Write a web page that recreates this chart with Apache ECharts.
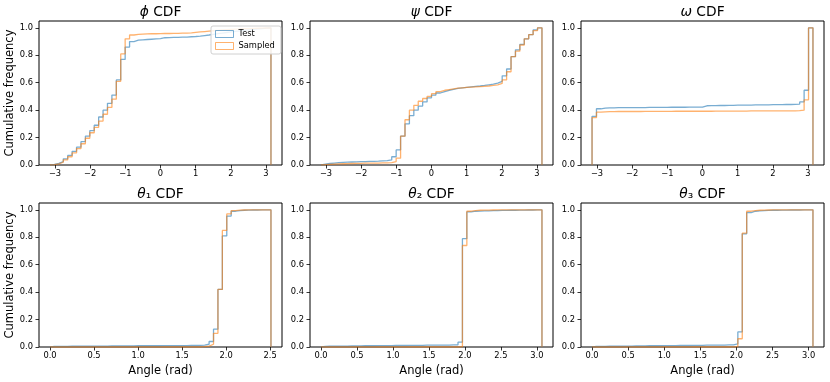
<!DOCTYPE html>
<html>
<head>
<meta charset="utf-8">
<script src="https://cdn.jsdelivr.net/npm/echarts@6/dist/echarts.min.js"></script>
<style>
    html, body {margin: 0; padding: 0; background: #fff;}
    #chart {width: 830px; height: 382px;}
</style>
</head>
<body>
<div id="chart"></div>
<script>
    // cumulative frequency per bin (50 bins)
    var phiTest = [0.004, 0.012, 0.025, 0.045, 0.07, 0.10, 0.13, 0.17, 0.21, 0.25,
        0.29, 0.35, 0.40, 0.45, 0.51, 0.62, 0.77, 0.86, 0.90, 0.91,
        0.913, 0.915, 0.917, 0.919, 0.921, 0.928, 0.929, 0.93, 0.931, 0.932,
        0.933, 0.935, 0.937, 0.94, 0.944, 0.948, 0.953, 0.958, 0.962, 0.966,
        0.97, 0.974, 0.978, 0.982, 0.986, 0.989, 0.992, 0.995, 0.998, 1.0];
    var phiSampled = [0.003, 0.009, 0.02, 0.037, 0.06, 0.088, 0.12, 0.155, 0.195, 0.235,
        0.275, 0.32, 0.37, 0.42, 0.48, 0.61, 0.81, 0.92, 0.948, 0.953,
        0.955, 0.956, 0.957, 0.957, 0.958, 0.959, 0.959, 0.96, 0.96, 0.961,
        0.962, 0.964, 0.967, 0.97, 0.973, 0.976, 0.979, 0.982, 0.985, 0.987,
        0.989, 0.991, 0.993, 0.994, 0.995, 0.996, 0.997, 0.998, 0.999, 1.0];
    var psiTest = [0.006, 0.011, 0.014, 0.017, 0.019, 0.021, 0.022, 0.023, 0.024, 0.025,
        0.026, 0.027, 0.028, 0.03, 0.032, 0.037, 0.06, 0.11, 0.21, 0.30,
        0.36, 0.40, 0.43, 0.46, 0.49, 0.51, 0.525, 0.535, 0.545, 0.552,
        0.558, 0.562, 0.566, 0.57, 0.573, 0.576, 0.58, 0.585, 0.59, 0.597,
        0.61, 0.65, 0.70, 0.79, 0.84, 0.88, 0.92, 0.95, 0.985, 1.0];
    var psiSampled = [0.003, 0.005, 0.007, 0.008, 0.009, 0.01, 0.011, 0.012, 0.012, 0.013,
        0.013, 0.014, 0.014, 0.015, 0.015, 0.017, 0.025, 0.05, 0.21, 0.33,
        0.40, 0.435, 0.465, 0.485, 0.50, 0.52, 0.535, 0.545, 0.55, 0.555,
        0.56, 0.563, 0.566, 0.568, 0.57, 0.572, 0.574, 0.576, 0.58, 0.585,
        0.595, 0.62, 0.68, 0.79, 0.83, 0.875, 0.92, 0.95, 0.98, 1.0];
    var omegaTest = [0.355, 0.41, 0.415, 0.417, 0.417, 0.418, 0.418, 0.418, 0.419, 0.419,
        0.419, 0.419, 0.42, 0.42, 0.42, 0.42, 0.42, 0.421, 0.421, 0.421,
        0.421, 0.422, 0.422, 0.422, 0.422, 0.432, 0.433, 0.433, 0.434, 0.434,
        0.435, 0.435, 0.436, 0.436, 0.437, 0.437, 0.438, 0.438, 0.439, 0.439,
        0.44, 0.44, 0.44, 0.441, 0.441, 0.442, 0.444, 0.46, 0.545, 1.0];
    var omegaSampled = [0.345, 0.385, 0.388, 0.389, 0.389, 0.39, 0.39, 0.39, 0.39, 0.39,
        0.39, 0.391, 0.391, 0.391, 0.391, 0.391, 0.391, 0.391, 0.392, 0.392,
        0.392, 0.392, 0.392, 0.392, 0.392, 0.392, 0.392, 0.393, 0.393, 0.393,
        0.393, 0.393, 0.393, 0.393, 0.393, 0.394, 0.394, 0.394, 0.394, 0.394,
        0.394, 0.394, 0.395, 0.395, 0.395, 0.395, 0.396, 0.40, 0.475, 1.0];
    var theta1Test = [0.004, 0.005, 0.005, 0.005, 0.006, 0.006, 0.006, 0.006, 0.007, 0.007,
        0.007, 0.007, 0.007, 0.008, 0.008, 0.008, 0.008, 0.008, 0.008, 0.009,
        0.009, 0.009, 0.009, 0.009, 0.009, 0.01, 0.01, 0.01, 0.01, 0.01,
        0.01, 0.011, 0.011, 0.012, 0.014, 0.02, 0.04, 0.13, 0.42, 0.81,
        0.955, 0.99, 0.995, 0.997, 0.998, 0.999, 0.999, 1.0, 1.0, 1.0];
    var theta1Sampled = [0, 0, 0, 0, 0, 0, 0, 0, 0, 0,
        0, 0, 0, 0, 0, 0, 0, 0, 0, 0,
        0, 0, 0, 0, 0, 0, 0, 0, 0, 0,
        0, 0, 0, 0, 0.002, 0.006, 0.02, 0.10, 0.42, 0.85,
        0.97, 0.995, 0.998, 0.999, 1.0, 1.0, 1.0, 1.0, 1.0, 1.0];
    var theta2Test = [0.005, 0.006, 0.006, 0.007, 0.007, 0.007, 0.008, 0.008, 0.008, 0.009,
        0.009, 0.009, 0.01, 0.01, 0.01, 0.01, 0.011, 0.011, 0.011, 0.012,
        0.012, 0.012, 0.012, 0.013, 0.013, 0.013, 0.013, 0.014, 0.014, 0.015,
        0.016, 0.035, 0.79, 0.985, 0.99, 0.991, 0.992, 0.993, 0.994, 0.995,
        0.996, 0.996, 0.997, 0.997, 0.998, 0.998, 0.999, 0.999, 1.0, 1.0];
    var theta2Sampled = [0, 0, 0, 0, 0, 0, 0, 0, 0, 0,
        0, 0, 0, 0, 0, 0, 0, 0, 0, 0,
        0, 0, 0, 0, 0, 0, 0, 0, 0, 0,
        0, 0.002, 0.74, 0.99, 0.995, 0.997, 0.998, 0.998, 0.999, 1.0,
        1.0, 1.0, 1.0, 1.0, 1.0, 1.0, 1.0, 1.0, 1.0, 1.0];
    var theta3Test = [0.004, 0.005, 0.005, 0.006, 0.006, 0.006, 0.007, 0.007, 0.007, 0.008,
        0.008, 0.008, 0.009, 0.009, 0.009, 0.01, 0.01, 0.01, 0.01, 0.011,
        0.011, 0.011, 0.012, 0.012, 0.012, 0.013, 0.013, 0.013, 0.014, 0.014,
        0.015, 0.016, 0.022, 0.11, 0.825, 0.98, 0.99, 0.993, 0.995, 0.996,
        0.997, 0.997, 0.998, 0.998, 0.999, 0.999, 0.999, 1.0, 1.0, 1.0];
    var theta3Sampled = [0, 0, 0, 0, 0, 0, 0, 0, 0, 0,
        0, 0, 0, 0, 0, 0, 0, 0, 0, 0,
        0, 0, 0, 0, 0, 0, 0, 0, 0, 0,
        0, 0, 0.003, 0.06, 0.83, 0.99, 0.995, 0.997, 0.998, 0.999,
        1.0, 1.0, 1.0, 1.0, 1.0, 1.0, 1.0, 1.0, 1.0, 1.0];

    // tick labels
    var angleTicks = [-3, -2, -1, 0, 1, 2, 3];
    var theta1Ticks = [0, 0.5, 1.0, 1.5, 2.0, 2.5];
    var theta23Ticks = [0, 0.5, 1.0, 1.5, 2.0, 2.5, 3.0];
    var yTicks = [0, 0.2, 0.4, 0.6, 0.8, 1.0];

    var PI = 3.14159;
    var panels = [
        {title: '{g|ϕ} CDF', lo: -PI, hi: PI, ticks: angleTicks, test: phiTest, sampled: phiSampled},
        {title: '{g|ψ} CDF', lo: -PI, hi: PI, ticks: angleTicks, test: psiTest, sampled: psiSampled},
        {title: '{g|ω} CDF', lo: -PI, hi: PI, ticks: angleTicks, test: omegaTest, sampled: omegaSampled},
        {title: '{g|θ}₁ CDF', lo: 0, hi: 2.51, ticks: theta1Ticks, test: theta1Test, sampled: theta1Sampled},
        {title: '{g|θ}₂ CDF', lo: 0, hi: 3.07, ticks: theta23Ticks, test: theta2Test, sampled: theta2Sampled},
        {title: '{g|θ}₃ CDF', lo: 0, hi: 3.06, ticks: theta23Ticks, test: theta3Test, sampled: theta3Sampled}
    ];

    var FONT = 'DejaVu Sans';
    var BLUE = 'rgba(31,119,180,0.6)';
    var ORANGE = 'rgba(255,127,14,0.6)';
    var lefts = [39, 310, 581];
    var tops = [21, 203];
    var W = 243, H = 144;

    // outline of a step histogram, like matplotlib histtype='step'
    function stepLine(lo, hi, vals) {
        var n = vals.length, w = (hi - lo) / n;
        var pts = [[lo, 0]];
        for (var i = 0; i < n; i++) {
            pts.push([lo + i * w, vals[i]]);
            pts.push([lo + (i + 1) * w, vals[i]]);
        }
        pts.push([hi, 0]);
        return pts;
    }

    var grids = [], xAxes = [], yAxes = [], series = [], titles = [];
    panels.forEach(function (p, k) {
        var row = Math.floor(k / 3), col = k % 3;
        var pad = (p.hi - p.lo) * 0.05;
        var intTicks = p.lo < 0;
        grids.push({
            left: lefts[col], top: tops[row], width: W, height: H,
            show: true, borderColor: '#000', borderWidth: 1, backgroundColor: 'transparent'
        });
        titles.push({
            text: p.title, left: lefts[col] + W / 2, top: tops[row] - 16, textAlign: 'center', padding: 0,
            textStyle: {
                fontFamily: FONT, fontSize: 13.8, fontWeight: 'normal', color: '#000',
                rich: {g: {fontFamily: FONT, fontSize: 13.8, fontStyle: 'italic', color: '#000'}}
            }
        });
        xAxes.push({
            type: 'value', gridIndex: k, min: p.lo - pad, max: p.hi + pad,
            axisLine: {show: false, onZero: false},
            splitLine: {show: false},
            axisTick: {show: true, length: 3.5, customValues: p.ticks, lineStyle: {color: '#000', width: 0.8}},
            axisLabel: {
                customValues: p.ticks, margin: 5, fontFamily: FONT, fontSize: 8.3, color: '#000',
                formatter: function (v) {
                    if (intTicks) return v < 0 ? '\u2212' + Math.abs(v) : String(v);
                    return v.toFixed(1);
                }
            },
            name: row === 1 ? 'Angle (rad)' : '', nameLocation: 'middle', nameGap: 18,
            nameTextStyle: {fontFamily: FONT, fontSize: 11.5, color: '#000'}
        });
        yAxes.push({
            type: 'value', gridIndex: k, min: 0, max: 1.05,
            axisLine: {show: false, onZero: false},
            splitLine: {show: false},
            axisTick: {show: true, length: 3.5, customValues: yTicks, lineStyle: {color: '#000', width: 0.8}},
            axisLabel: {
                customValues: yTicks, margin: 6, fontFamily: FONT, fontSize: 8.3, color: '#000',
                formatter: function (v) { return v.toFixed(1); }
            },
            name: col === 0 ? 'Cumulative frequency' : '', nameLocation: 'middle', nameGap: 22,
            nameTextStyle: {fontFamily: FONT, fontSize: 11.5, color: '#000'}
        });
        series.push({
            name: 'Test', type: 'line', xAxisIndex: k, yAxisIndex: k,
            data: stepLine(p.lo, p.hi, p.test), symbol: 'none', silent: true,
            lineStyle: {color: BLUE, width: 1.3}, itemStyle: {color: BLUE}
        });
        series.push({
            name: 'Sampled', type: 'line', xAxisIndex: k, yAxisIndex: k,
            data: stepLine(p.lo, p.hi, p.sampled), symbol: 'none', silent: true,
            lineStyle: {color: ORANGE, width: 1.3}, itemStyle: {color: ORANGE}
        });
    });

    var chart = echarts.init(document.getElementById('chart'), null, {renderer: 'canvas'});
    chart.setOption({
        animation: false,
        backgroundColor: '#fff',
        title: titles,
        grid: grids,
        xAxis: xAxes,
        yAxis: yAxes,
        legend: {
            orient: 'vertical', left: 211, top: 26,
            icon: 'rect', itemWidth: 18, itemHeight: 7, itemGap: 4,
            padding: [4, 6, 4, 4],
            backgroundColor: 'rgba(255,255,255,0.85)', borderColor: '#d0d0d0', borderWidth: 1, borderRadius: 2,
            textStyle: {fontFamily: FONT, fontSize: 8.3, color: '#000'},
            data: [
                {name: 'Test', itemStyle: {color: 'rgba(0,0,0,0)', borderColor: BLUE, borderWidth: 1}},
                {name: 'Sampled', itemStyle: {color: 'rgba(0,0,0,0)', borderColor: ORANGE, borderWidth: 1}}
            ]
        },
        series: series
    });
</script>
</body>
</html>
